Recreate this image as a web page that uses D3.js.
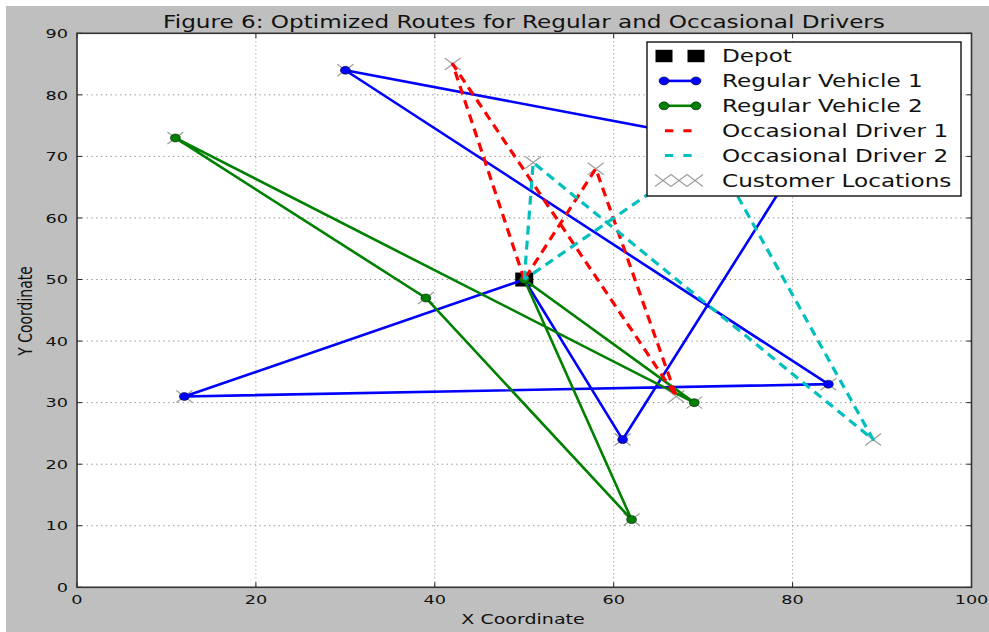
<!DOCTYPE html>
<html>
<head>
<meta charset="utf-8">
<script src="https://cdnjs.cloudflare.com/ajax/libs/d3/7.8.5/d3.min.js"></script>
<style>
  body { margin: 0; background: #fff; }
  text { font-family: "DejaVu Sans", sans-serif; fill: #111; }
</style>
</head>
<body>
<script>
// route data (x, y in chart units)
var depot = [50, 50];
var customers = [[30,84],[42,85],[11,73],[51,69],[58,68],[39,47],[12,31],[84,33],
                 [67,31],[69,30],[61,24],[62,11],[89,24],[81,70],[71,71]];
var regular1 = [[50,50],[61,24],[81,70],[30,84],[84,33],[12,31],[50,50]];
var regular2 = [[50,50],[62,11],[39,47],[11,73],[69,30],[50,50]];
var occasional1 = [[50,50],[42,85],[67,31],[58,68],[50,50]];
var occasional2 = [[50,50],[51,69],[89,24],[71,71],[50,50]];
var xTicks = [0,20,40,60,80,100];
var yTicks = [0,10,20,30,40,50,60,70,80,90];
var legendLabels = ["Depot","Regular Vehicle 1","Regular Vehicle 2","Occasional Driver 1","Occasional Driver 2","Customer Locations"];

var W = 989, H = 632;
var sx = 1.36; // the picture is stretched sideways, text and markers follow that
var margin = {top: 33.3, right: 17.5, bottom: 44.7, left: 77};
var width = W - margin.left - margin.right,
    height = H - margin.top - margin.bottom;

var svg = d3.select("body").append("svg").attr("width", W).attr("height", H);
svg.append("rect").attr("x",6).attr("y",6).attr("width",W-6).attr("height",H-6).attr("fill","#bfbfbf");

var x = d3.scaleLinear().domain([0,100]).range([0,width]);
var y = d3.scaleLinear().domain([0,90]).range([height,0]);

var g = svg.append("g").attr("transform","translate(" + margin.left + "," + margin.top + ")");
g.append("rect").attr("width",width).attr("height",height).attr("fill","#fff");

// grid
g.selectAll(".gx").data(xTicks.slice(1,-1)).enter().append("line")
  .attr("x1",d=>x(d)).attr("x2",d=>x(d)).attr("y1",0).attr("y2",height)
  .attr("stroke","#8a8a8a").attr("stroke-width",1).attr("stroke-dasharray","1,3");
g.selectAll(".gy").data(yTicks.slice(1,-1)).enter().append("line")
  .attr("y1",d=>y(d)).attr("y2",d=>y(d)).attr("x1",0).attr("x2",width)
  .attr("stroke","#8a8a8a").attr("stroke-width",1).attr("stroke-dasharray","1.3,3.5");

// ticks inside on all four sides
var tk = 5;
xTicks.forEach(function(d){
  g.append("line").attr("x1",x(d)).attr("x2",x(d)).attr("y1",height).attr("y2",height-tk).attr("stroke","#222");
  g.append("line").attr("x1",x(d)).attr("x2",x(d)).attr("y1",0).attr("y2",tk).attr("stroke","#222");
  g.append("text").attr("transform","translate(" + x(d) + "," + (height+16.7) + ") scale(" + sx + ",1)")
    .attr("text-anchor","middle").style("font-size","13px").text(d);
});
yTicks.forEach(function(d){
  g.append("line").attr("y1",y(d)).attr("y2",y(d)).attr("x1",0).attr("x2",tk).attr("stroke","#222");
  g.append("line").attr("y1",y(d)).attr("y2",y(d)).attr("x1",width).attr("x2",width-tk).attr("stroke","#222");
  g.append("text").attr("transform","translate(-9," + (y(d)+4.7) + ") scale(" + sx + ",1)")
    .attr("text-anchor","end").style("font-size","13px").text(d);
});

// customers (scatter sits under the lines)
function cross(sel, cx, cy, w, h) {
  sel.append("path")
    .attr("d","M" + (cx-w/2) + "," + (cy-h/2) + "L" + (cx+w/2) + "," + (cy+h/2) +
              "M" + (cx-w/2) + "," + (cy+h/2) + "L" + (cx+w/2) + "," + (cy-h/2))
    .attr("stroke","#8c8c8c").attr("stroke-opacity",0.85).attr("stroke-width",1.2).attr("fill","none");
}
customers.forEach(function(c){ cross(g, x(c[0]), y(c[1]), 16, 12); });

// depot
g.append("rect").attr("x",x(depot[0])-9).attr("y",y(depot[1])-7).attr("width",18).attr("height",14)
  .attr("fill","#000");

var line = d3.line().x(d=>x(d[0])).y(d=>y(d[1]));

function route(data, color, dash, dots) {
  g.append("path").datum(data).attr("d",line).attr("fill","none")
    .attr("stroke",color).attr("stroke-width",dash ? 3.2 : 2.6)
    .attr("stroke-dasharray",dash ? "9,6" : null).attr("stroke-linejoin","round");
  if (dots) {
    g.selectAll(null).data(data).enter().append("ellipse")
      .attr("cx",d=>x(d[0])).attr("cy",d=>y(d[1])).attr("rx",5).attr("ry",4)
      .attr("fill",color).attr("stroke","#000").attr("stroke-width",0.5);
  }
}
route(regular1, "#0000ff", false, true);
route(regular2, "#008000", false, true);
route(occasional1, "#ff0000", true, false);
route(occasional2, "#00bfbf", true, false);

// spines
g.append("rect").attr("width",width).attr("height",height).attr("fill","none")
  .attr("stroke","#333").attr("stroke-width",1.6);

// legend
var lg = svg.append("g").attr("transform","translate(647,42)");
lg.append("rect").attr("width",314).attr("height",154).attr("fill","#fff")
  .attr("stroke","#111").attr("stroke-width",1.4);
var rowY = function(i){ return 14 + i*24.9; };
var h1 = 17, h2 = 49;
legendLabels.forEach(function(t,i){
  var ry = rowY(i);
  if (i == 0) {
    [h1,h2].forEach(function(hx){
      lg.append("rect").attr("x",hx-8.5).attr("y",ry-6.2).attr("width",17).attr("height",12.4).attr("fill","#000");
    });
  } else if (i == 1 || i == 2) {
    var c = i == 1 ? "#0000ff" : "#008000";
    lg.append("line").attr("x1",h1).attr("x2",h2).attr("y1",ry).attr("y2",ry).attr("stroke",c).attr("stroke-width",2.6);
    [h1,h2].forEach(function(hx){
      lg.append("ellipse").attr("cx",hx).attr("cy",ry).attr("rx",5).attr("ry",4)
        .attr("fill",c).attr("stroke","#000").attr("stroke-width",0.5);
    });
  } else if (i == 3 || i == 4) {
    var c2 = i == 3 ? "#ff0000" : "#00bfbf";
    lg.append("line").attr("x1",18).attr("x2",46).attr("y1",ry).attr("y2",ry).attr("stroke",c2)
      .attr("stroke-width",3).attr("stroke-dasharray","8.3,10");
  } else {
    [16,32,48].forEach(function(hx){ cross(lg, hx, ry, 16, 12); });
  }
  lg.append("text").attr("transform","translate(75," + (ry+6.2) + ") scale(" + sx + ",1)")
    .style("font-size","17px").text(t);
});

// titles
svg.append("text").attr("transform","translate(524,28) scale(" + sx + ",1)")
  .attr("text-anchor","middle").style("font-size","17px")
  .text("Figure 6: Optimized Routes for Regular and Occasional Drivers");
svg.append("text").attr("transform","translate(523,624) scale(" + sx + ",1)")
  .attr("text-anchor","middle").style("font-size","14px").text("X Coordinate");
svg.append("text").attr("transform","translate(31.5,311) scale(" + sx + ",1) rotate(-90)")
  .attr("text-anchor","middle").style("font-size","14px").text("Y Coordinate");
</script>
</body>
</html>
